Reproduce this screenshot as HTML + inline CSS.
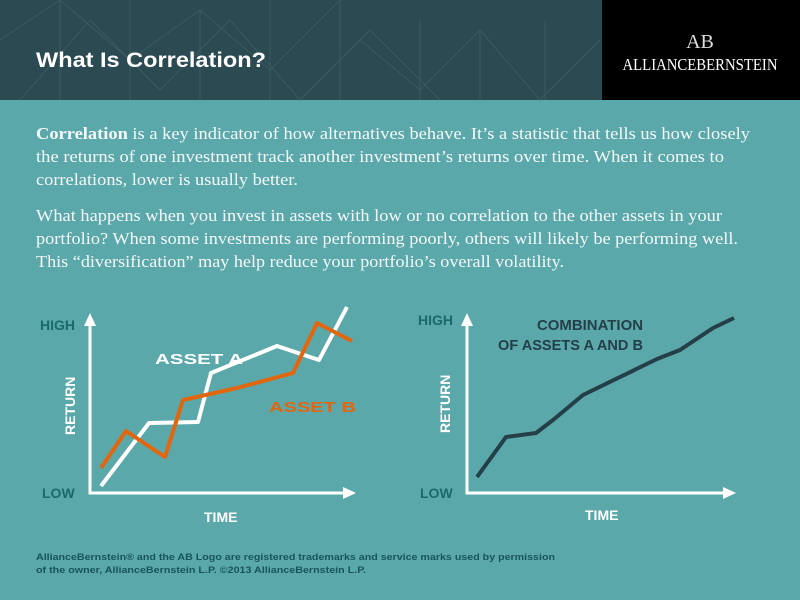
<!DOCTYPE html>
<html><head><style>
html,body{margin:0;padding:0;width:800px;height:600px;overflow:hidden;background:#5ba8ab}
svg{display:block}
.s{font-family:"Liberation Sans",sans-serif;font-weight:bold}
.t{font-family:"Liberation Serif",serif;font-size:17px;fill:#f4f8f8}
</style></head><body>
<svg width="800" height="600" viewBox="0 0 800 600">
<rect width="800" height="600" fill="#5ba8ab"/>
<rect width="800" height="100" fill="#2b4a52"/>
<g stroke="#3d5c64" stroke-width="1" fill="none" opacity="0.9">
<path d="M0 40 L60 0 L130 60 L200 10 L270 70 L340 0 M20 100 L90 20 L160 90 L230 20 L300 100 L370 30 L440 100 M300 100 L360 40 L420 90 L480 30 L540 100 L600 40 M60 0 V100 M130 0 V100 M200 10 V100 M270 0 V100 M340 0 V100 M420 20 V100 M480 30 V100 M545 20 V100"/>
</g>
<rect x="602" y="0" width="198" height="100" fill="#000"/>
<text x="700" y="48" text-anchor="middle" font-family="Liberation Serif,serif" font-size="20" fill="#ddd">AB</text>
<text x="700" y="70" text-anchor="middle" font-family="Liberation Serif,serif" font-size="17" fill="#fff" textLength="155" lengthAdjust="spacingAndGlyphs">ALLIANCEBERNSTEIN</text>
<text x="36" y="67" class="s" font-size="21" fill="#fff" textLength="230" lengthAdjust="spacingAndGlyphs">What Is Correlation?</text>

<text class="t" x="36" y="139" textLength="714" lengthAdjust="spacingAndGlyphs"><tspan font-weight="bold">Correlation</tspan> is a key indicator of how alternatives behave. It’s a statistic that tells us how closely</text>
<text class="t" x="36" y="162" textLength="688" lengthAdjust="spacingAndGlyphs">the returns of one investment track another investment’s returns over time. When it comes to</text>
<text class="t" x="36" y="185" textLength="262" lengthAdjust="spacingAndGlyphs">correlations, lower is usually better.</text>
<text class="t" x="36" y="221" textLength="686" lengthAdjust="spacingAndGlyphs">What happens when you invest in assets with low or no correlation to the other assets in your</text>
<text class="t" x="36" y="244" textLength="702" lengthAdjust="spacingAndGlyphs">portfolio? When some investments are performing poorly, others will likely be performing well.</text>
<text class="t" x="36" y="267" textLength="528" lengthAdjust="spacingAndGlyphs">This “diversification” may help reduce your portfolio’s overall volatility.</text>

<!-- left chart -->
<path d="M90 322 V493 H345" stroke="#fff" stroke-width="3" fill="none"/>
<path d="M84 326 L90 313 L96 326 Z M343 487 L356 493 L343 499 Z" fill="#fff"/>
<polyline points="101,486 149,423 198,422 211,373 277,346 319,360 347,307" stroke="#fff" stroke-width="4" fill="none" stroke-linejoin="round"/>
<polyline points="101,468 126,431 165,457 183,400 237,388 293,373 317,323 352,341" stroke="#e2660e" stroke-width="4" fill="none" stroke-linejoin="round"/>
<text x="40" y="330" class="s" font-size="14" fill="#1b6a6a">HIGH</text>
<text x="42" y="498" class="s" font-size="14" fill="#1b6a6a">LOW</text>
<text x="204" y="522" class="s" font-size="14" fill="#fff">TIME</text>
<text transform="translate(75,435) rotate(-90)" class="s" font-size="14" fill="#fff">RETURN</text>
<text x="155" y="364" class="s" font-size="15" fill="#fff" textLength="88" lengthAdjust="spacingAndGlyphs">ASSET A</text>
<text x="269" y="412" class="s" font-size="15" fill="#e2660e" textLength="87" lengthAdjust="spacingAndGlyphs">ASSET B</text>

<!-- right chart -->
<path d="M467 322 V493 H725" stroke="#fff" stroke-width="3" fill="none"/>
<path d="M461 326 L467 313 L473 326 Z M723 487 L736 493 L723 499 Z" fill="#fff"/>
<polyline points="477,477 506,437 536,433 553,420 583,395 657,359 680,350 713,328 734,318" stroke="#243f48" stroke-width="4" fill="none" stroke-linejoin="round"/>
<text x="418" y="325" class="s" font-size="14" fill="#1b6a6a">HIGH</text>
<text x="420" y="498" class="s" font-size="14" fill="#1b6a6a">LOW</text>
<text x="585" y="520" class="s" font-size="14" fill="#fff">TIME</text>
<text transform="translate(450,433) rotate(-90)" class="s" font-size="14" fill="#fff">RETURN</text>
<text x="537" y="330" class="s" font-size="15" fill="#243f48" textLength="106" lengthAdjust="spacingAndGlyphs">COMBINATION</text>
<text x="498" y="350" class="s" font-size="15" fill="#243f48" textLength="145" lengthAdjust="spacingAndGlyphs">OF ASSETS A AND B</text>

<text x="36" y="560" class="s" font-size="9" fill="#17555a" textLength="519" lengthAdjust="spacingAndGlyphs">AllianceBernstein® and the AB Logo are registered trademarks and service marks used by permission</text>
<text x="36" y="573" class="s" font-size="9" fill="#17555a" textLength="330" lengthAdjust="spacingAndGlyphs">of the owner, AllianceBernstein L.P. ©2013 AllianceBernstein L.P.</text>
</svg>
</body></html>
